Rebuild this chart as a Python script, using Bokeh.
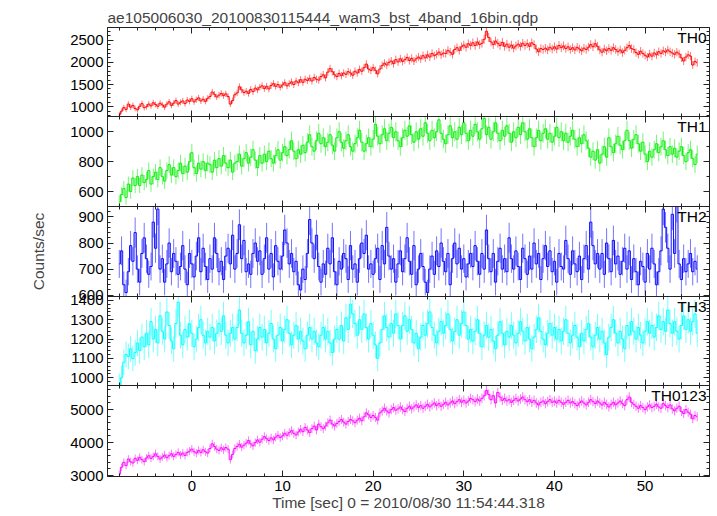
import math
from bokeh.plotting import figure
from bokeh.layouts import column
from bokeh.models import Range1d, LinearAxis, SingleIntervalTicker, Label
from bokeh.embed import file_html
from bokeh.resources import INLINE

# ---------------- data ----------------
title_text = "ae105006030_20100830115444_wam3_bst_4band_16bin.qdp"
xlabel_text = "Time [sec] 0 = 2010/08/30 11:54:44.318"
ylabel_text = "Counts/sec"
bin_size = 0.25          # seconds per bin (16 x 1/64 s)
first_bin = -8.0         # centre of the first bin [sec]
band_names = ["TH0", "TH1", "TH2", "TH3", "TH0123"]

th0 = [820, 900, 980, 940, 1060, 990, 1030, 960, 930, 1010, 1070, 980, 1000, 1060, 1020, 1090,
       1050, 1010, 1080, 1040, 990, 1060, 1110, 1030, 1080, 1140, 1060, 1100, 1130, 1070, 1150, 1120,
       1180, 1110, 1160, 1200, 1130, 1170, 1120, 1190, 1230, 1330, 1280, 1220, 1260, 1300, 1250, 1290,
       1230, 1060, 1140, 1270, 1310, 1450, 1380, 1320, 1350, 1300, 1390, 1340, 1420, 1380, 1440, 1470,
       1410, 1460, 1400, 1480, 1520, 1460, 1500, 1440, 1490, 1540, 1470, 1520, 1560, 1500, 1580, 1540,
       1610, 1550, 1620, 1590, 1640, 1580, 1660, 1620, 1600, 1680, 1720, 1650, 1780, 1860, 1790, 1720,
       1680, 1750, 1700, 1760, 1730, 1790, 1760, 1710, 1800, 1760, 1840, 1800, 1880, 1960, 1850, 1820,
       1880, 1820, 1740, 1850, 1930, 1980, 1940, 2000, 2030, 1970, 2060, 2010, 2080, 2020, 2060, 2110,
       2040, 2090, 2030, 2080, 2120, 2080, 2150, 2100, 2170, 2120, 2200, 2150, 2180, 2230, 2170, 2210,
       2200, 2270, 2230, 2180, 2290, 2330, 2270, 2350, 2390, 2340, 2420, 2380, 2440, 2380, 2460, 2400,
       2430, 2520, 2700, 2560, 2460, 2400, 2480, 2430, 2380, 2450, 2360, 2410, 2340, 2390, 2320, 2370,
       2410, 2360, 2430, 2380, 2420, 2360, 2440, 2400, 2300, 2240, 2310, 2290, 2320, 2280, 2340, 2300,
       2350, 2300, 2380, 2330, 2370, 2310, 2350, 2290, 2330, 2280, 2340, 2300, 2260, 2320, 2290, 2340,
       2400, 2350, 2420, 2360, 2280, 2230, 2300, 2260, 2310, 2270, 2330, 2290, 2240, 2280, 2220, 2270,
       2330, 2380, 2310, 2290, 2220, 2180, 2250, 2200, 2160, 2120, 2190, 2140, 2210, 2170, 2240, 2200,
       2260, 2230, 2280, 2240, 2210, 2180, 2230, 2190, 2100, 2030, 2120, 2170, 2140, 1940, 2020, 1990]

th1 = [530, 580, 620, 560, 650, 600, 690, 640, 700, 640, 710, 660, 680, 740, 650, 700,
       730, 680, 760, 700, 670, 740, 780, 710, 760, 700, 740, 790, 720, 770, 730, 800,
       860, 760, 720, 790, 750, 800, 740, 790, 780, 730, 810, 760, 820, 770, 840, 790,
       760, 810, 730, 790, 800, 850, 770, 820, 860, 790, 830, 880, 810, 760, 840, 790,
       850, 800, 870, 820, 790, 840, 880, 810, 860, 900, 840, 880, 940, 870, 820, 880,
       850, 910, 860, 930, 980, 900, 870, 940, 990, 920, 960, 900, 930, 980, 910, 870,
       960, 1000, 930, 890, 940, 980, 900, 870, 920, 960, 1010, 930, 870, 920, 960, 900,
       950, 1050, 970, 920, 980, 1020, 940, 990, 1030, 960, 1000, 940, 900, 960, 1010, 970,
       1040, 980, 930, 1000, 950, 1020, 970, 1060, 990, 940, 1010, 960, 1000, 1080, 990, 950,
       920, 980, 1040, 960, 1000, 950, 1030, 980, 1060, 990, 940, 1010, 970, 1050, 1000, 950,
       1020, 1090, 980, 1030, 950, 1000, 1060, 990, 940, 1010, 970, 1040, 990, 930, 1000, 960,
       1030, 980, 1060, 1000, 950, 1020, 960, 900, 960, 1010, 940, 990, 1020, 950, 990, 930,
       970, 1030, 960, 1000, 940, 990, 930, 970, 1010, 950, 900, 960, 920, 980, 940, 890,
       830, 870, 810, 880, 790, 850, 900, 830, 960, 900, 860, 920, 970, 910, 880, 940,
       1010, 940, 890, 950, 980, 920, 870, 930, 850, 800, 870, 830, 880, 920, 860, 900,
       940, 880, 840, 900, 850, 890, 830, 870, 900, 840, 800, 860, 880, 820, 780, 850]

th2 = [720, 770, 640, 610, 690, 790, 730, 840, 700, 650, 760, 820, 740, 680, 710, 880,
       780, 930, 700, 740, 650, 720, 800, 690, 760, 730, 680, 710, 790, 700, 640, 760,
       720, 670, 750, 820, 690, 780, 710, 660, 740, 700, 820, 760, 690, 730, 660, 750,
       780, 720, 830, 700, 760, 870, 740, 810, 690, 720, 680, 760, 800, 730, 770, 680,
       740, 820, 700, 760, 670, 790, 730, 700, 750, 850, 800, 720, 760, 690, 730, 640,
       620, 700, 660, 760, 890, 800, 740, 830, 710, 650, 720, 680, 780, 720, 820, 690,
       640, 730, 700, 760, 740, 660, 790, 700, 720, 650, 740, 800, 760, 830, 700, 720,
       680, 740, 780, 660, 790, 720, 860, 750, 700, 740, 650, 720, 770, 690, 740, 820,
       730, 680, 790, 640, 700, 760, 710, 650, 610, 700, 750, 680, 770, 710, 800, 730,
       690, 760, 640, 740, 800, 720, 780, 700, 740, 670, 720, 760, 710, 790, 730, 680,
       760, 700, 850, 740, 690, 760, 650, 730, 780, 700, 740, 690, 820, 740, 700, 770,
       710, 660, 780, 740, 680, 750, 700, 800, 720, 760, 660, 740, 790, 710, 770, 690,
       730, 650, 760, 710, 700, 810, 740, 680, 770, 720, 690, 750, 660, 740, 790, 700,
       880, 790, 720, 760, 700, 760, 680, 800, 740, 690, 810, 720, 750, 680, 730, 780,
       700, 770, 660, 740, 690, 640, 730, 710, 650, 760, 700, 780, 720, 640, 690, 770,
       930, 860, 780, 700, 910, 760, 940, 720, 660, 740, 690, 720, 760, 690, 730, 700]

th3 = [960, 1000, 1080, 1120, 1110, 1150, 1100, 1130, 1180, 1140, 1210, 1160, 1230, 1170, 1290, 1200,
       1250, 1180, 1320, 1240, 1200, 1340, 1270, 1190, 1150, 1280, 1390, 1220, 1170, 1250, 1210, 1280,
       1230, 1160, 1200, 1260, 1300, 1220, 1180, 1240, 1210, 1260, 1190, 1230, 1280, 1240, 1320, 1220,
       1180, 1230, 1260, 1200, 1260, 1350, 1230, 1180, 1220, 1290, 1170, 1240, 1140, 1200, 1260, 1210,
       1250, 1180, 1230, 1280, 1200, 1150, 1220, 1260, 1190, 1250, 1300, 1230, 1170, 1220, 1270, 1200,
       1240, 1190, 1150, 1220, 1260, 1200, 1240, 1180, 1160, 1220, 1260, 1200, 1240, 1180, 1130, 1200,
       1250, 1200, 1270, 1190, 1310, 1250, 1380, 1330, 1280, 1220, 1300, 1250, 1330, 1260, 1200, 1280,
       1220, 1170, 1100, 1180, 1250, 1320, 1260, 1210, 1280, 1230, 1330, 1270, 1200, 1270, 1320, 1240,
       1300, 1250, 1180, 1230, 1150, 1210, 1270, 1220, 1280, 1340, 1260, 1220, 1180, 1240, 1290, 1230,
       1270, 1330, 1250, 1190, 1240, 1300, 1220, 1280, 1340, 1270, 1200, 1250, 1190, 1240, 1300, 1230,
       1160, 1220, 1270, 1210, 1250, 1190, 1150, 1220, 1290, 1230, 1170, 1240, 1210, 1270, 1220, 1180,
       1230, 1290, 1240, 1190, 1260, 1200, 1150, 1210, 1250, 1310, 1240, 1200, 1170, 1230, 1280, 1220,
       1260, 1200, 1250, 1190, 1240, 1300, 1230, 1180, 1220, 1270, 1210, 1160, 1230, 1190, 1250, 1280,
       1210, 1160, 1220, 1260, 1200, 1240, 1180, 1120, 1210, 1260, 1300, 1230, 1180, 1240, 1200, 1150,
       1270, 1220, 1290, 1240, 1200, 1260, 1220, 1180, 1240, 1290, 1230, 1270, 1210, 1260, 1320, 1250,
       1290, 1240, 1350, 1280, 1230, 1290, 1240, 1200, 1270, 1320, 1250, 1300, 1240, 1290, 1330, 1230]

th0123 = [3040, 3250, 3400, 3300, 3500, 3420, 3380, 3520, 3460, 3550, 3480, 3420, 3530, 3600, 3520, 3580,
          3660, 3580, 3500, 3560, 3620, 3540, 3600, 3660, 3580, 3640, 3700, 3620, 3680, 3610, 3700, 3740,
          3800, 3720, 3680, 3760, 3700, 3780, 3720, 3680, 3820, 3960, 3880, 3800, 3760, 3840, 3780, 3850,
          3800, 3480, 3640, 3820, 3880, 3950, 3860, 3920, 3980, 4060, 3960, 3900, 4000, 4080, 4010, 4100,
          4180, 4120, 4060, 4140, 4080, 4160, 4220, 4150, 4200, 4280, 4220, 4300, 4360, 4280, 4230, 4320,
          4400, 4330, 4460, 4380, 4300, 4420, 4500, 4380, 4560, 4480, 4420, 4500, 4600, 4680, 4560, 4500,
          4580, 4640, 4700, 4620, 4560, 4640, 4700, 4660, 4600, 4680, 4740, 4660, 4780, 4900, 4840, 4760,
          4820, 4760, 4680, 4900, 4960, 5040, 4960, 4900, 5000, 5060, 4980, 5020, 5080, 5000, 4940, 5040,
          5100, 5020, 5080, 5140, 5060, 5120, 5040, 5100, 5160, 5080, 5140, 5200, 5120, 5180, 5100, 5160,
          5220, 5140, 5200, 5260, 5180, 5240, 5300, 5220, 5280, 5200, 5260, 5340, 5300, 5240, 5320, 5260,
          5340, 5420, 5580, 5460, 5300, 5420, 5200, 5520, 5380, 5280, 5340, 5260, 5300, 5220, 5280, 5340,
          5260, 5320, 5380, 5300, 5240, 5300, 5220, 5280, 5200, 5140, 5220, 5260, 5180, 5240, 5300, 5220,
          5260, 5200, 5280, 5220, 5160, 5220, 5280, 5200, 5240, 5180, 5120, 5200, 5260, 5200, 5140, 5220,
          5300, 5240, 5180, 5260, 5200, 5140, 5220, 5160, 5080, 5160, 5220, 5140, 5200, 5260, 5180, 5120,
          5300, 5380, 5220, 5160, 5100, 5040, 5120, 5060, 5000, 5080, 5140, 5060, 5100, 5160, 5080, 5040,
          5180, 5120, 5060, 5140, 5020, 4960, 5040, 5100, 4940, 4880, 5000, 4920, 4860, 4720, 4820, 4780]

series = [th0, th1, th2, th3, th0123]
colors = ["#ff0000", "#00ee00", "#0000ff", "#00ffff", "#ff00ff"]
y_ranges = [(780, 2785), (500, 1102), (595, 940), (960, 1420), (2970, 5730)]
y_major = [500, 200, 100, 100, 1000]
y_minor = [5, 2, 5, 5, 5]
frame_heights = [89, 90, 90, 89, 91]
x_limits = (-9.3, 57.1)

FONT = "Liberation Sans"
TICK_FS = "15px"
LAB_FS = "15.5px"
OVER = 10   # transparent border that neighbouring panels overlap

times = [first_bin + bin_size * i for i in range(len(th0))]

xr = Range1d(*x_limits)


def style_axis(ax, show_labels):
    ax.major_tick_in = 6
    ax.major_tick_out = 0
    ax.minor_tick_in = 3
    ax.minor_tick_out = 0
    ax.axis_line_color = "#222222"
    ax.major_tick_line_color = "#222222"
    ax.minor_tick_line_color = "#222222"
    if show_labels:
        ax.major_label_text_font = FONT
        ax.major_label_text_font_size = TICK_FS
        ax.major_label_text_color = "black"
        ax.major_label_standoff = 4
    else:
        ax.major_label_text_color = None
        ax.major_label_text_font_size = "0px"
        ax.major_label_standoff = 0
    return ax


panels = []
n = len(series)
for k in range(n):
    first = k == 0
    last = k == n - 1
    p = figure(frame_width=602, frame_height=frame_heights[k],
               x_range=xr, y_range=Range1d(*y_ranges[k]),
               x_axis_location=None, y_axis_location=None,
               output_backend="svg", toolbar_location=None,
               min_border_left=107, min_border_right=6,
               min_border_top=27 if first else OVER,
               min_border_bottom=36 if last else OVER,
               background_fill_color=None, border_fill_color=None,
               outline_line_color="#222222", outline_line_width=1)
    if not first:
        p.margin = (-2 * OVER, 0, 0, 0)
    p.xgrid.visible = False
    p.ygrid.visible = False

    # y axes (left labelled, right ticks only)
    lax = style_axis(LinearAxis(ticker=SingleIntervalTicker(interval=y_major[k], num_minor_ticks=y_minor[k])), True)
    if k == 2:
        lax.axis_label = ylabel_text
        lax.axis_label_text_font = FONT
        lax.axis_label_text_font_size = LAB_FS
        lax.axis_label_text_font_style = "normal"
        lax.axis_label_standoff = 28
    p.add_layout(lax, "left")
    rax = style_axis(LinearAxis(ticker=SingleIntervalTicker(interval=y_major[k], num_minor_ticks=y_minor[k])), False)
    p.add_layout(rax, "right")

    # x axes (top ticks only, bottom labelled on last panel)
    tax = style_axis(LinearAxis(ticker=SingleIntervalTicker(interval=10, num_minor_ticks=5)), False)
    p.add_layout(tax, "above")
    bax = style_axis(LinearAxis(ticker=SingleIntervalTicker(interval=10, num_minor_ticks=5)), last)
    if last:
        bax.axis_label = xlabel_text
        bax.axis_label_text_font = FONT
        bax.axis_label_text_font_size = LAB_FS
        bax.axis_label_text_font_style = "normal"
        bax.axis_label_standoff = 0
    p.add_layout(bax, "below")

    if first:
        p.title.text = title_text
        p.title.text_font = FONT
        p.title.text_font_size = LAB_FS
        p.title.text_font_style = "normal"
        p.title.align = "left"
        p.title.offset = 0
        p.title.standoff = 4

    vals = series[k]
    errs = [math.sqrt(v / bin_size) for v in vals]
    lo = [v - e for v, e in zip(vals, errs)]
    hi = [v + e for v, e in zip(vals, errs)]
    p.segment(x0=times, y0=lo, x1=times, y1=hi, line_color=colors[k], line_alpha=0.55, line_width=1)
    p.step(x=times, y=vals, mode="center", line_color=colors[k], line_alpha=0.95, line_width=1)

    p.add_layout(Label(x=x_limits[1], y=y_ranges[k][1], x_offset=-3, y_offset=-1,
                       text=band_names[k], text_align="right", text_baseline="top",
                       text_font=FONT, text_font_size=LAB_FS, text_color="black"))
    panels.append(p)

layout = column(*panels, spacing=0)

with open("out.html", "w") as f:
    f.write(file_html(layout, INLINE, title="qdp light curve"))
